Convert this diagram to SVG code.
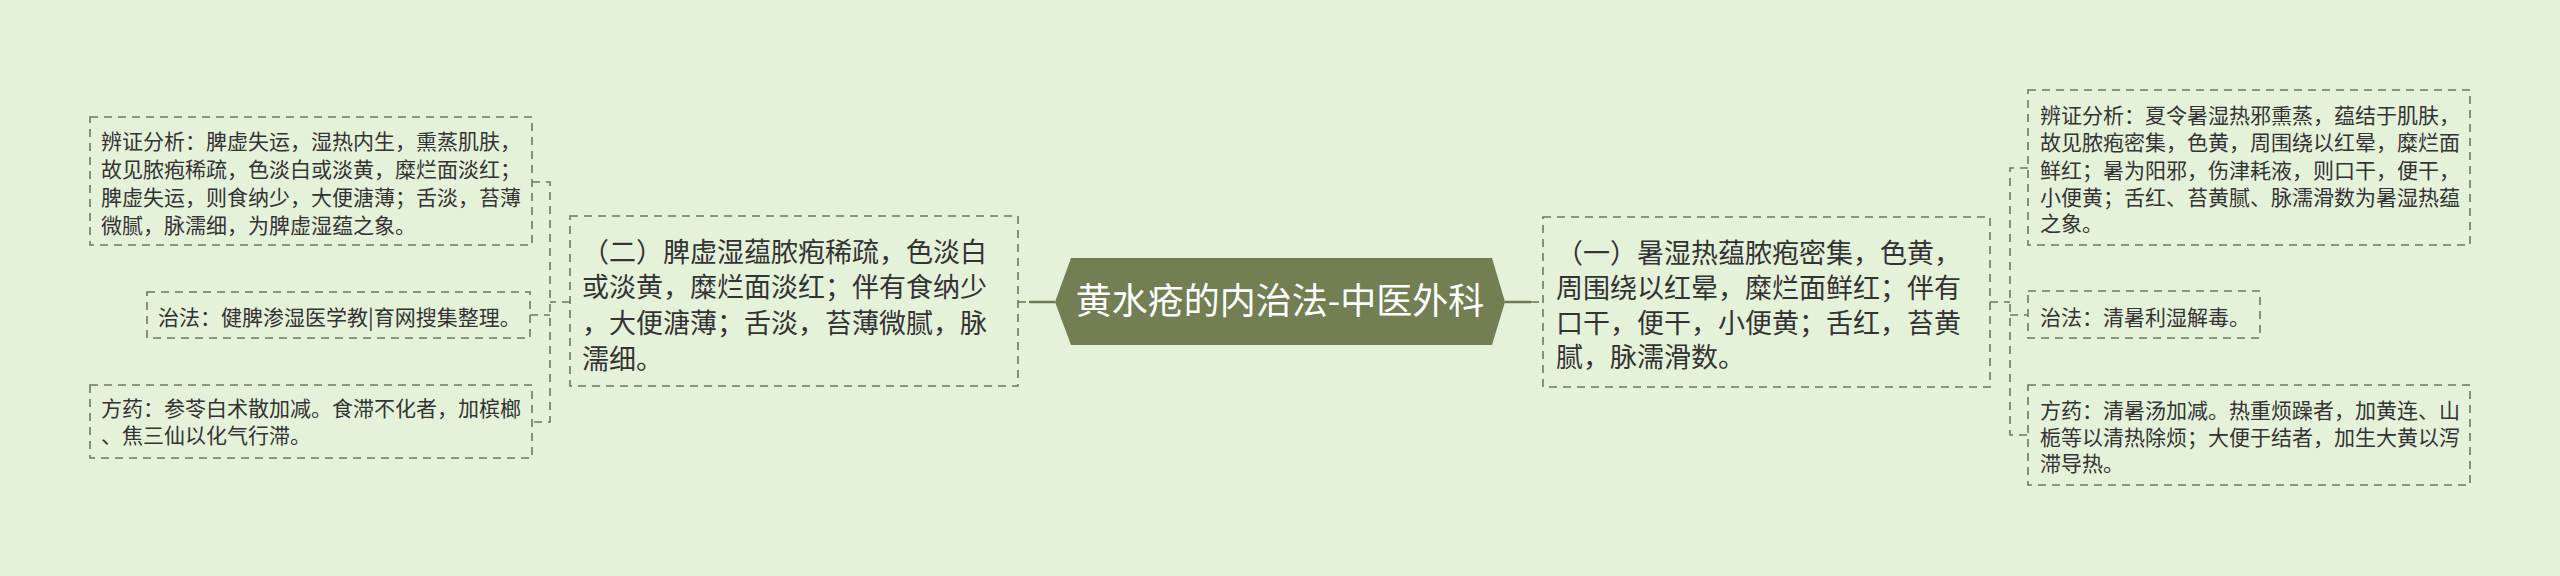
<svg xmlns="http://www.w3.org/2000/svg" width="2560" height="576" viewBox="0 0 2560 576">
<style>
.bg{fill:#e5f2da}
.box{fill:none;stroke:#6c7a57;stroke-width:1.6;stroke-dasharray:8 6}
.dl{fill:none;stroke:#6c7a57;stroke-width:1.6;stroke-dasharray:8 6}
.sl{fill:none;stroke:#6c7a57;stroke-width:2.5}
.t{font-family:"Noto Sans CJK SC","Noto Sans",sans-serif;fill:#333333}
.s{font-size:21px}
.m{font-size:27px}
.root{fill:#717f53}
.rt{font-family:"Noto Sans CJK SC","Noto Sans",sans-serif;fill:#ffffff;font-size:36px}
</style>
<rect class="bg" x="0" y="0" width="2560" height="576"/>
<g id="connectors">
<path class="sl" d="M1029 302 H1055"/>
<path class="sl" d="M1505 302 H1531"/>
<path class="dl" d="M1018 302 H1029"/>
<path class="dl" d="M1531 302 H1543"/>
<path class="dl" d="M570 302 H550 M532 182 H550 V422 H532 M530 315 H550"/>
<path class="dl" d="M1990 302 H2010 M2028 168 H2010 V435 H2028 M2010 315 H2028"/>
</g>
<g id="root">
<polygon class="root" points="1055,302 1071,258 1492,258 1505,302 1492,345 1071,345"/>
<text class="rt" x="1280" y="314" text-anchor="middle">黄水疮的内治法-中医外科</text>
</g>
<g id="node-left-main">
<rect class="box" x="570" y="216" width="448" height="170"/>
<text class="t m"><tspan x="582" y="262">（二）脾虚湿蕴脓疱稀疏，色淡白</tspan><tspan x="582" y="297">或淡黄，糜烂面淡红；伴有食纳少</tspan><tspan x="582" y="333">，大便溏薄；舌淡，苔薄微腻，脉</tspan><tspan x="582" y="369">濡细。</tspan></text>
</g>
<g id="node-left-1">
<rect class="box" x="90" y="117" width="442" height="128"/>
<text class="t s"><tspan x="101" y="149">辨证分析：脾虚失运，湿热内生，熏蒸肌肤，</tspan><tspan x="101" y="177">故见脓疱稀疏，色淡白或淡黄，糜烂面淡红；</tspan><tspan x="101" y="205">脾虚失运，则食纳少，大便溏薄；舌淡，苔薄</tspan><tspan x="101" y="233">微腻，脉濡细，为脾虚湿蕴之象。</tspan></text>
</g>
<g id="node-left-2">
<rect class="box" x="147" y="292" width="383" height="46"/>
<text class="t s" x="158" y="325">治法：健脾渗湿医学教|育网搜集整理。</text>
</g>
<g id="node-left-3">
<rect class="box" x="90" y="385" width="442" height="73"/>
<text class="t s"><tspan x="101" y="416">方药：参苓白术散加减。食滞不化者，加槟榔</tspan><tspan x="101" y="443">、焦三仙以化气行滞。</tspan></text>
</g>
<g id="node-right-main">
<rect class="box" x="1543" y="217" width="447" height="170"/>
<text class="t m"><tspan x="1556" y="263">（一）暑湿热蕴脓疱密集，色黄，</tspan><tspan x="1556" y="298">周围绕以红晕，糜烂面鲜红；伴有</tspan><tspan x="1556" y="333">口干，便干，小便黄；舌红，苔黄</tspan><tspan x="1556" y="367">腻，脉濡滑数。</tspan></text>
</g>
<g id="node-right-1">
<rect class="box" x="2028" y="90" width="442" height="155"/>
<text class="t s"><tspan x="2040" y="123">辨证分析：夏令暑湿热邪熏蒸，蕴结于肌肤，</tspan><tspan x="2040" y="150">故见脓疱密集，色黄，周围绕以红晕，糜烂面</tspan><tspan x="2040" y="178">鲜红；暑为阳邪，伤津耗液，则口干，便干，</tspan><tspan x="2040" y="205">小便黄；舌红、苔黄腻、脉濡滑数为暑湿热蕴</tspan><tspan x="2040" y="231">之象。</tspan></text>
</g>
<g id="node-right-2">
<rect class="box" x="2028" y="291" width="232" height="47"/>
<text class="t s" x="2040" y="325">治法：清暑利湿解毒。</text>
</g>
<g id="node-right-3">
<rect class="box" x="2028" y="385" width="442" height="100"/>
<text class="t s"><tspan x="2040" y="418">方药：清暑汤加减。热重烦躁者，加黄连、山</tspan><tspan x="2040" y="445">栀等以清热除烦；大便于结者，加生大黄以泻</tspan><tspan x="2040" y="471">滞导热。</tspan></text>
</g>
</svg>
